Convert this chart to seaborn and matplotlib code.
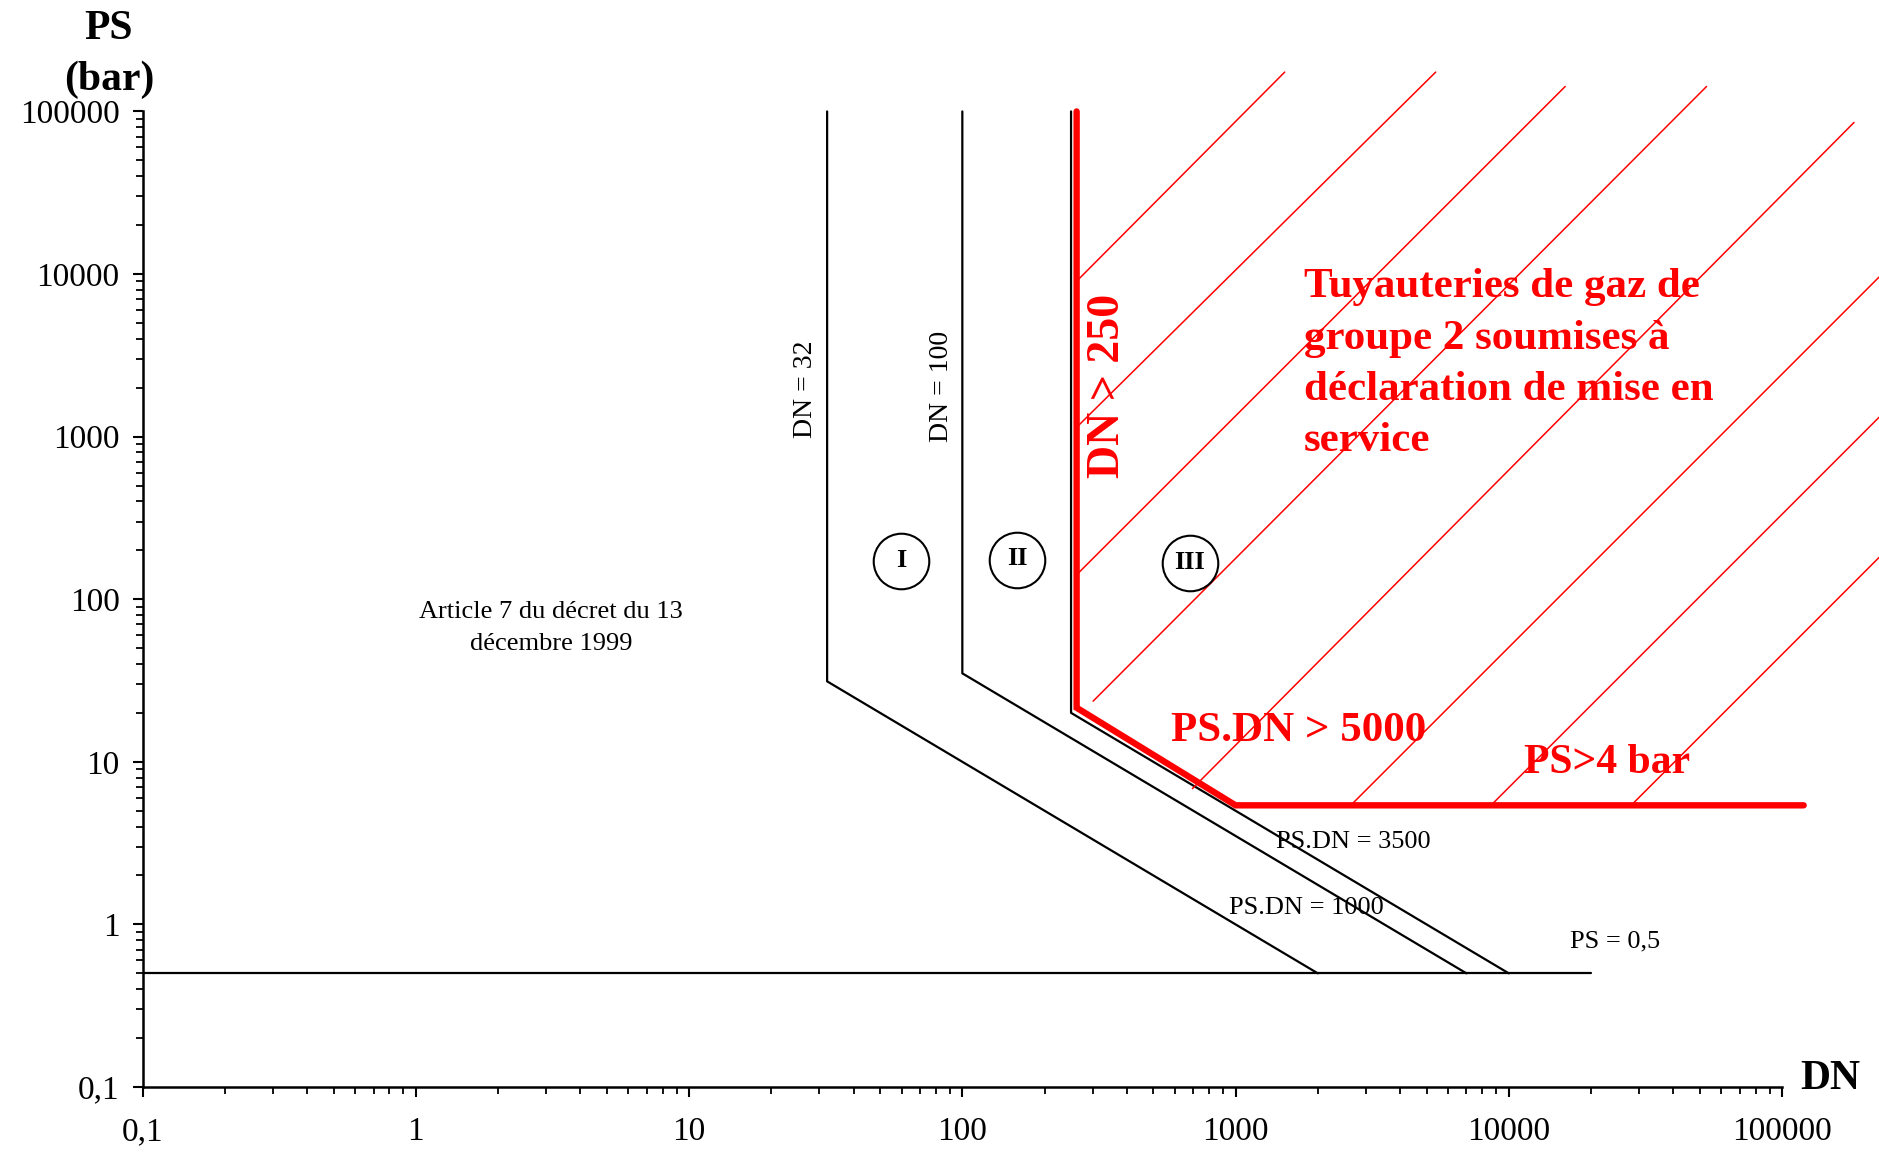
import matplotlib
matplotlib.use("Agg")
import matplotlib.pyplot as plt
import pandas as pd
import seaborn as sns
from matplotlib.ticker import FixedLocator, FixedFormatter, LogLocator, NullFormatter

# Category boundaries: DN (mm) vs PS (bar)
dn32_dn = [32, 32, 2000]
dn32_ps = [100000, 31.25, 0.5]
dn100_dn = [100, 100, 7000]
dn100_ps = [100000, 35, 0.5]
dn250_dn = [250, 250, 10000]
dn250_ps = [100000, 20, 0.5]
ps05_dn = [0.1, 20000]
ps05_ps = [0.5, 0.5]

# Border of the zone subject to declaration
zone_dn = [262, 262, 1000, 120000]
zone_ps = [100000, 21.5, 5.4, 5.4]

# Hatching of the declaration zone (start / end of each stroke)
hatch_dn0 = [266, 266, 266, 301, 695, 2637, 8596, 28010]
hatch_ps0 = [9265, 1170, 145, 23.6, 6.84, 5.39, 5.39, 5.39]
hatch_dn1 = [1513, 5400, 16080, 52920, 183400, 226600, 226600, 226600]
hatch_ps1 = [174500, 174500, 142300, 142300, 85540, 9586, 1316, 180.8]

# Category markers
cat_labels = ["I", "II", "III"]
cat_dn = [59.7, 159, 681]
cat_ps = [172, 175, 166]

# Axis ticks
tick_values = [0.1, 1, 10, 100, 1000, 10000, 100000]
x_tick_labels = ["0,1", "1", "10", "100", "1000", "10000", "100000"]
y_tick_labels = ["0,1", "1", "10", "100", "1000", "10000", "100000"]

sns.set_theme(style="ticks")
plt.rcParams["font.family"] = ["Liberation Serif", "DejaVu Serif"]
plt.rcParams["text.color"] = "black"
plt.rcParams["xtick.color"] = "black"
plt.rcParams["ytick.color"] = "black"

fig = plt.figure(figsize=(18.79, 11.57), dpi=100)
ax = fig.add_axes([0.0759, 0.0605, 0.8725, 0.8432])
ax.set_xscale("log")
ax.set_yscale("log")
ax.set_xlim(0.1, 100000)
ax.set_ylim(0.1, 100000)

# Black boundaries
bounds = pd.concat([
    pd.DataFrame({"DN": dn32_dn, "PS": dn32_ps, "line": "dn32"}),
    pd.DataFrame({"DN": dn100_dn, "PS": dn100_ps, "line": "dn100"}),
    pd.DataFrame({"DN": dn250_dn, "PS": dn250_ps, "line": "dn250"}),
    pd.DataFrame({"DN": ps05_dn, "PS": ps05_ps, "line": "ps05"}),
], ignore_index=True)
sns.lineplot(data=bounds, x="DN", y="PS", units="line", estimator=None,
             sort=False, color="black", linewidth=1.6, ax=ax, clip_on=False)

# Hatching strokes
hatch_rows = []
for i in range(len(hatch_dn0)):
    hatch_rows.append({"DN": hatch_dn0[i], "PS": hatch_ps0[i], "line": i})
    hatch_rows.append({"DN": hatch_dn1[i], "PS": hatch_ps1[i], "line": i})
hatch = pd.DataFrame(hatch_rows)
sns.lineplot(data=hatch, x="DN", y="PS", units="line", estimator=None,
             sort=False, color="#ff0000", linewidth=1.1, ax=ax, clip_on=False)

# Red zone border
sns.lineplot(x=zone_dn, y=zone_ps, estimator=None, sort=False,
             color="#ff0000", linewidth=4.6, ax=ax, clip_on=False,
             solid_joinstyle="miter")

# Category circles
ax.scatter(cat_dn, cat_ps, s=1600, facecolors="white", edgecolors="black",
           linewidths=1.5, zorder=5, clip_on=False)
for lab, x, y in zip(cat_labels, cat_dn, cat_ps):
    ax.text(x, y * 1.01, lab, ha="center", va="center", fontsize=19,
            fontweight="bold", color="black", zorder=6)

# Annotations
ax.text(3.13, 66.5, "Article 7 du décret du 13\ndécembre 1999", ha="center",
        va="center", fontsize=19, linespacing=1.58)
ax.text(26.6, 1963, "DN = 32", rotation=90, ha="center", va="center", fontsize=20)
ax.text(83.6, 2048, "DN = 100", rotation=90, ha="center", va="center", fontsize=20)
ax.text(2695, 3.21, "PS.DN = 3500", ha="center", va="center", fontsize=19)
ax.text(1813, 1.26, "PS.DN = 1000", ha="center", va="center", fontsize=19)
ax.text(24520, 0.79, "PS = 0,5", ha="center", va="center", fontsize=19)

ax.text(341.8, 2048, "DN > 250", rotation=90, ha="center", va="center",
        fontsize=33, fontweight="bold", color="#ff0000")
ax.text(1695, 15.5, "PS.DN > 5000", ha="center", va="center", fontsize=31,
        fontweight="bold", color="#ff0000")
ax.text(22920, 9.83, "PS>4 bar", ha="center", va="center", fontsize=30,
        fontweight="bold", color="#ff0000")
ax.text(1783, 2780,
        "Tuyauteries de gaz de\ngroupe 2 soumises à\ndéclaration de mise en\nservice",
        ha="left", va="center", fontsize=31, fontweight="bold",
        color="#ff0000", linespacing=1.46)

# Axes styling
for side in ["top", "right"]:
    ax.spines[side].set_visible(False)
for side in ["left", "bottom"]:
    ax.spines[side].set_linewidth(1.8)
    ax.spines[side].set_color("black")

ax.xaxis.set_major_locator(FixedLocator(tick_values))
ax.xaxis.set_major_formatter(FixedFormatter(x_tick_labels))
ax.yaxis.set_major_locator(FixedLocator(tick_values))
ax.yaxis.set_major_formatter(FixedFormatter(y_tick_labels))
ax.xaxis.set_minor_locator(LogLocator(base=10, subs=range(2, 10), numticks=20))
ax.yaxis.set_minor_locator(LogLocator(base=10, subs=range(2, 10), numticks=20))
ax.xaxis.set_minor_formatter(NullFormatter())
ax.yaxis.set_minor_formatter(NullFormatter())

ax.tick_params(axis="both", which="major", direction="out", length=7.5,
               width=1.5, color="black", labelsize=24, labelcolor="black")
ax.tick_params(axis="both", which="minor", direction="out", length=5,
               width=1.3, color="black")
ax.tick_params(axis="x", which="major", pad=14)
ax.tick_params(axis="y", which="major", pad=9)
ax.set_xlabel("")
ax.set_ylabel("")
ax.grid(False)

fig.text(0.058, 0.953, "PS\n(bar)", ha="center", va="center", fontsize=30,
         fontweight="bold", linespacing=1.45, color="black")
fig.text(0.974, 0.067, "DN", ha="center", va="center", fontsize=30,
         fontweight="bold", color="black")

fig.savefig("out.png", dpi=100, facecolor="white")
